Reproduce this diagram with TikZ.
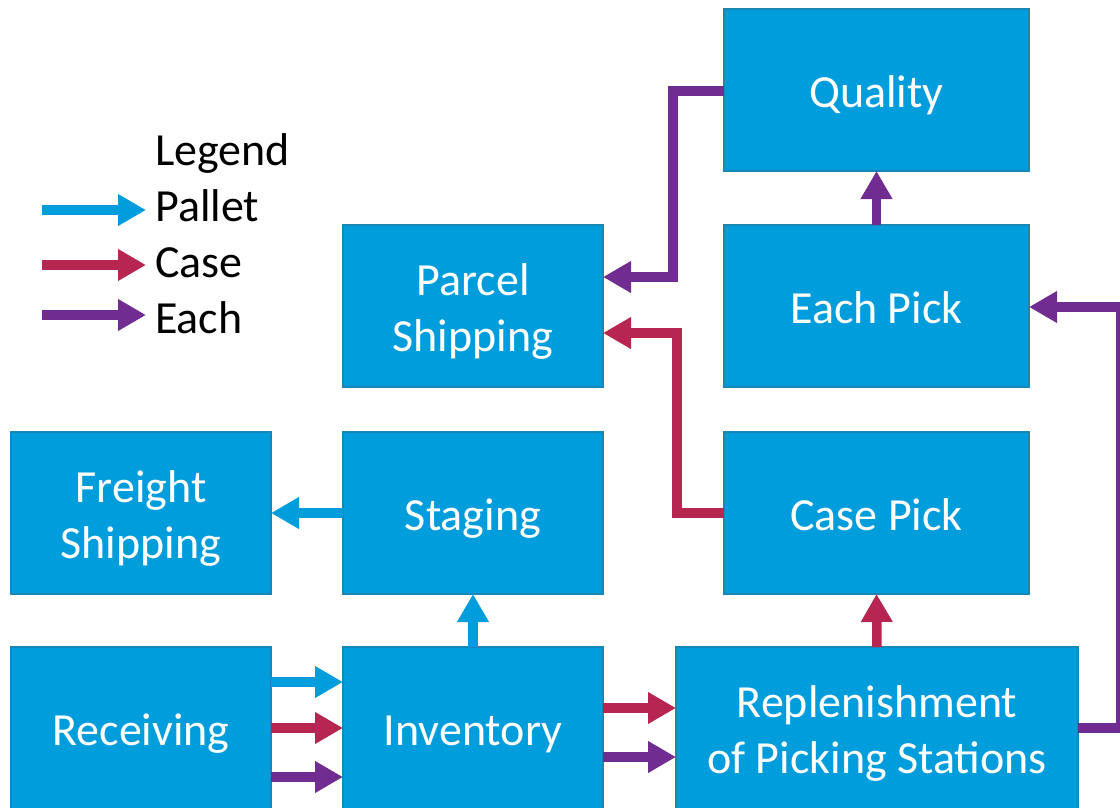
\documentclass[tikz,border=0pt]{standalone}
\usepackage{fontspec}
\setmainfont{Carlito}
\usetikzlibrary{arrows.meta}
\definecolor{boxblue}{HTML}{009DDC}
\definecolor{boxedge}{HTML}{1A86B8}
\definecolor{palletc}{HTML}{009DDC}
\definecolor{casec}{HTML}{B72651}
\definecolor{eachc}{HTML}{702C91}
\tikzset{
  box/.style={draw=boxedge, line width=1.2pt, fill=boxblue, text=white,
    inner sep=0pt, outer sep=0pt, align=center,
    font=\fontsize{46}{56}\selectfont, text height=36pt, text depth=2pt},
  box2/.style={box, text height=92pt, text depth=2pt},
  flow/.style={line width=9.5pt, line join=miter, -{Triangle[length=28pt,width=30pt]}},
  palletflow/.style={flow, draw=palletc},
  caseflow/.style={flow, draw=casec},
  eachflow/.style={flow, draw=eachc},
  legtext/.style={anchor=base west, inner sep=0pt, font=\fontsize{46}{56}\selectfont}
}
\begin{document}
\begin{tikzpicture}[x=1pt,y=-1pt]
\useasboundingbox (0,0) rectangle (1120,808);
% boxes
\node[box, minimum width=305pt, minimum height=162pt] (quality) at (876.5,90) {Quality};
\node[box, minimum width=305pt, minimum height=162pt] (eachpick) at (876.5,306) {Each Pick};
\node[box, minimum width=305pt, minimum height=162pt] (casepick) at (876.5,513) {Case Pick};
\node[box2, minimum width=402pt, minimum height=162pt] (replen) at (877,728) {Replenishment\\of Picking Stations};
\node[box2, minimum width=260pt, minimum height=162pt] (parcel) at (473,306) {Parcel\\Shipping};
\node[box, minimum width=260pt, minimum height=162pt] (staging) at (473,513) {Staging};
\node[box, minimum width=260pt, minimum height=162pt] (inventory) at (473,728) {Inventory};
\node[box2, minimum width=260pt, minimum height=162pt] (freight) at (141,513) {Freight\\Shipping};
\node[box, minimum width=260pt, minimum height=162pt] (receiving) at (141,728) {Receiving};
% connectors
\draw[palletflow] ([yshift=46pt]receiving.east) -- ([yshift=46pt]inventory.west);
\draw[caseflow] (receiving.east) -- (inventory.west);
\draw[eachflow] ([yshift=-49pt]receiving.east) -- ([yshift=-49pt]inventory.west);
\draw[caseflow] ([yshift=20pt]inventory.east) -- ([yshift=20pt]replen.west);
\draw[eachflow] ([yshift=-29pt]inventory.east) -- ([yshift=-29pt]replen.west);
\draw[palletflow] (inventory.north) -- (staging.south);
\draw[palletflow] (staging.west) -- (freight.east);
\draw[caseflow] (replen.north) -- (casepick.south);
\draw[eachflow] (eachpick.north) -- (quality.south);
\draw[caseflow] (casepick.west) -- ++(-47,0) |- ([yshift=-27pt]parcel.east);
\draw[eachflow] ([yshift=-1pt]quality.west) -- ++(-51,0) |- ([yshift=29pt]parcel.east);
\draw[eachflow] (replen.east) -- ++(43,0) |- ([yshift=-1pt]eachpick.east);
% legend
\node[legtext] (legend) at (155,165) {Legend};
\node[legtext] (lpallet) at (155,221) {Pallet};
\node[legtext] (lcase) at (155,277) {Case};
\node[legtext] (leach) at (155,333) {Each};
\coordinate (lp1) at (42,210); \coordinate (lp2) at (146,210);
\coordinate (lc1) at (42,265); \coordinate (lc2) at (146,265);
\coordinate (le1) at (42,315); \coordinate (le2) at (146,315);
\draw[palletflow] (lp1) -- (lp2);
\draw[caseflow] (lc1) -- (lc2);
\draw[eachflow] (le1) -- (le2);
\end{tikzpicture}
\end{document}
